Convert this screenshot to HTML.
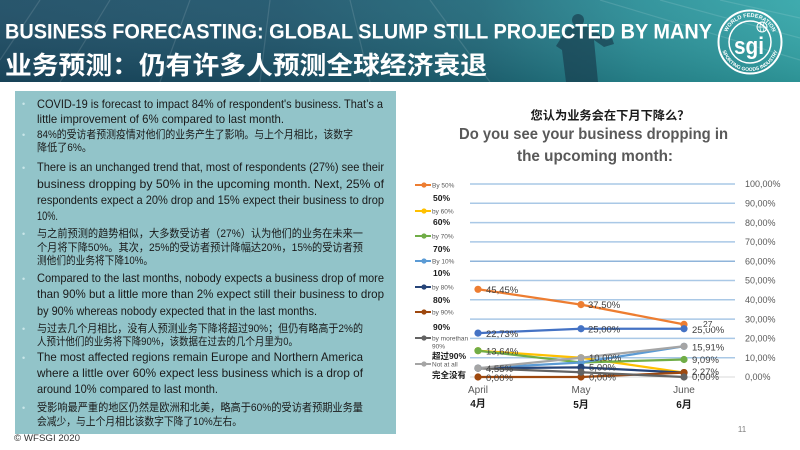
<!DOCTYPE html>
<html><head><meta charset="utf-8"><style>
html,body{margin:0;padding:0;background:#fff;width:800px;height:450px;overflow:hidden}
svg{display:block}
.en{font-family:"Liberation Sans","Noto Sans CJK SC",sans-serif;font-size:12px;fill:#1a1a1a}
.cn{font-family:"Liberation Sans","Noto Sans CJK SC",sans-serif;font-size:11px;fill:#1a1a1a}
.bu{font-family:"Liberation Sans",sans-serif;font-size:9px;fill:#c9e6e8}
.dl{font-family:"Liberation Sans",sans-serif;font-size:9.5px;fill:#404040}
.ax{font-family:"Liberation Sans",sans-serif;font-size:9px;fill:#595959}
.lg{font-family:"Liberation Sans",sans-serif;font-size:6.5px;fill:#595959}
.lb{font-family:"Liberation Sans","Noto Sans CJK SC",sans-serif;font-size:8.5px;font-weight:bold;fill:#1a1a1a}
</style></head><body>
<svg width="800" height="450" viewBox="0 0 800 450" xmlns="http://www.w3.org/2000/svg">
<defs>
<linearGradient id="hg" x1="0" y1="0" x2="1" y2="0">
<stop offset="0" stop-color="#1b4b63"/>
<stop offset="0.35" stop-color="#1d546b"/>
<stop offset="0.6" stop-color="#20697a"/>
<stop offset="0.8" stop-color="#298e97"/>
<stop offset="1" stop-color="#33a6a9"/>
</linearGradient>
<linearGradient id="hv" x1="0" y1="0" x2="0" y2="1">
<stop offset="0" stop-color="#ffffff" stop-opacity="0.06"/>
<stop offset="1" stop-color="#000000" stop-opacity="0.12"/>
</linearGradient>
<path id="arcTop" d="M725,42 A25,25 0 0 1 775,42"/>
<path id="arcBot" d="M721,42 A29,29 0 0 0 779,42"/>
</defs>

<!-- Header -->
<rect x="0" y="0" width="800" height="82" fill="url(#hg)"/>
<rect x="0" y="0" width="800" height="82" fill="url(#hv)"/>
<g stroke="#ffffff" stroke-opacity="0.12" stroke-width="1.2" fill="none">
<line x1="40" y1="0" x2="0" y2="60"/>
<line x1="110" y1="0" x2="60" y2="82"/>
<line x1="190" y1="0" x2="160" y2="82"/>
<line x1="270" y1="0" x2="260" y2="82"/>
<line x1="350" y1="0" x2="370" y2="82"/>
<line x1="430" y1="0" x2="490" y2="82"/>
<line x1="600" y1="0" x2="800" y2="60"/>
<line x1="660" y1="0" x2="800" y2="38"/>
<line x1="720" y1="0" x2="800" y2="18"/>
</g>
<g fill="#173a4c" fill-opacity="0.65">
<circle cx="578" cy="20" r="6"/>
<path d="M568,27 L590,27 L606,40 L612,38 L614,44 L604,47 L594,40 L598,82 L566,82 L562,50 L556,46 Z"/>
</g>
<text x="5" y="38.5" textLength="707" lengthAdjust="spacingAndGlyphs" style="font-family:'Liberation Sans',sans-serif;font-weight:bold;font-size:21px;fill:#fff">BUSINESS FORECASTING: GLOBAL SLUMP STILL PROJECTED BY MANY</text>
<text x="5" y="74" textLength="482" lengthAdjust="spacingAndGlyphs" style="font-family:'Liberation Sans','Noto Sans CJK SC',sans-serif;font-weight:bold;font-size:25px;fill:#fff">业务预测：仍有许多人预测全球经济衰退</text>

<!-- Logo -->
<g fill="none" stroke="#fff">
<circle cx="750" cy="42" r="31.5" stroke-width="2"/>
<circle cx="750" cy="42" r="21" stroke-width="1.5"/>
<circle cx="762" cy="27" r="5" stroke-width="1"/>
<line x1="757" y1="27" x2="767" y2="27" stroke-width="0.7"/>
<ellipse cx="762" cy="27" rx="2" ry="5" stroke-width="0.7"/>
</g>
<text style="font-family:'Liberation Sans',sans-serif;font-weight:bold;font-size:5.5px;fill:#fff"><textPath href="#arcTop" startOffset="50%" text-anchor="middle">WORLD FEDERATION</textPath></text>
<text style="font-family:'Liberation Sans',sans-serif;font-weight:bold;font-size:5px;fill:#fff"><textPath href="#arcBot" startOffset="50%" text-anchor="middle">SPORTING GOODS INDUSTRY</textPath></text>
<text x="749" y="54" text-anchor="middle" style="font-family:'Liberation Sans',sans-serif;font-weight:bold;font-size:24px;fill:#fff" textLength="30" lengthAdjust="spacingAndGlyphs">sgi</text>

<!-- Left text box -->
<rect x="15" y="91" width="381" height="343" fill="#92c4c9"/>
<text class="bu" x="22" y="107">•</text>
<text class="bu" x="22" y="138">•</text>
<text class="bu" x="22" y="171">•</text>
<text class="bu" x="22" y="237">•</text>
<text class="bu" x="22" y="282">•</text>
<text class="bu" x="22" y="332">•</text>
<text class="bu" x="22" y="361">•</text>
<text class="bu" x="22" y="411">•</text>

<text class="en" x="37" y="108" textLength="346" lengthAdjust="spacingAndGlyphs">COVID-19 is forecast to impact 84% of respondent's business. That’s a</text>
<text class="en" x="37" y="123" textLength="247" lengthAdjust="spacingAndGlyphs">little improvement of 6% compared to last month.</text>
<text class="cn" x="37" y="138" textLength="316" lengthAdjust="spacingAndGlyphs">84%的受访者预测疫情对他们的业务产生了影响。与上个月相比，该数字</text>
<text class="cn" x="37" y="151" textLength="55" lengthAdjust="spacingAndGlyphs">降低了6%。</text>
<text class="en" x="37" y="171" textLength="347" lengthAdjust="spacingAndGlyphs">There is an unchanged trend that, most of respondents (27%) see their</text>
<text class="en" x="37" y="188" textLength="347" lengthAdjust="spacingAndGlyphs">business dropping by 50% in the upcoming month. Next, 25% of</text>
<text class="en" x="37" y="204" textLength="347" lengthAdjust="spacingAndGlyphs">respondents expect a 20% drop and 15% expect their business to drop</text>
<text class="en" x="37" y="220" textLength="21" lengthAdjust="spacingAndGlyphs">10%.</text>
<text class="cn" x="37" y="237" textLength="326" lengthAdjust="spacingAndGlyphs">与之前预测的趋势相似，大多数受访者（27%）认为他们的业务在未来一</text>
<text class="cn" x="37" y="251" textLength="326" lengthAdjust="spacingAndGlyphs">个月将下降50%。其次，25%的受访者预计降幅达20%，15%的受访者预</text>
<text class="cn" x="37" y="264" textLength="116" lengthAdjust="spacingAndGlyphs">测他们的业务将下降10%。</text>
<text class="en" x="37" y="282" textLength="347" lengthAdjust="spacingAndGlyphs">Compared to the last months, nobody expects a business drop of more</text>
<text class="en" x="37" y="298" textLength="347" lengthAdjust="spacingAndGlyphs">than 90% but a little more than 2% expect still their business to drop</text>
<text class="en" x="37" y="315" textLength="280" lengthAdjust="spacingAndGlyphs">by 90% whereas nobody expected that in the last months.</text>
<text class="cn" x="37" y="332" textLength="326" lengthAdjust="spacingAndGlyphs">与过去几个月相比，没有人预测业务下降将超过90%；但仍有略高于2%的</text>
<text class="cn" x="37" y="345" textLength="261" lengthAdjust="spacingAndGlyphs">人预计他们的业务将下降90%，该数据在过去的几个月里为0。</text>
<text class="en" x="37" y="361" textLength="326" lengthAdjust="spacingAndGlyphs">The most affected regions remain Europe and Northern America</text>
<text class="en" x="37" y="377" textLength="326" lengthAdjust="spacingAndGlyphs">where a little over 60% expect less business which is a drop of</text>
<text class="en" x="37" y="393" textLength="181" lengthAdjust="spacingAndGlyphs">around 10% compared to last month.</text>
<text class="cn" x="37" y="411" textLength="326" lengthAdjust="spacingAndGlyphs">受影响最严重的地区仍然是欧洲和北美，略高于60%的受访者预期业务量</text>
<text class="cn" x="37" y="425" textLength="205" lengthAdjust="spacingAndGlyphs">会减少，与上个月相比该数字下降了10%左右。</text>

<text x="14" y="441" textLength="66" lengthAdjust="spacingAndGlyphs" style="font-family:'Liberation Sans',sans-serif;font-size:9px;fill:#333">© WFSGI 2020</text>

<!-- Chart titles -->
<text x="610" y="119.5" text-anchor="middle" textLength="159" lengthAdjust="spacingAndGlyphs" style="font-family:'Liberation Sans','Noto Sans CJK SC',sans-serif;font-weight:bold;font-size:12px;fill:#1a1a1a">您认为业务会在下月下降么？</text>
<text x="459" y="139" textLength="269" lengthAdjust="spacingAndGlyphs" style="font-family:'Liberation Sans',sans-serif;font-weight:bold;font-size:15.5px;fill:#595959">Do you see your business dropping in</text>
<text x="517" y="161" textLength="156" lengthAdjust="spacingAndGlyphs" style="font-family:'Liberation Sans',sans-serif;font-weight:bold;font-size:15.5px;fill:#595959">the upcoming month:</text>

<!-- Gridlines -->
<g stroke="#a9c8e6" stroke-width="1.5">
<line x1="470" y1="184" x2="735" y2="184"/>
<line x1="470" y1="203.3" x2="735" y2="203.3"/>
<line x1="470" y1="222.6" x2="735" y2="222.6"/>
<line x1="470" y1="241.9" x2="735" y2="241.9"/>
<line x1="470" y1="261.2" x2="735" y2="261.2" stroke="#8fb4da"/>
<line x1="470" y1="280.5" x2="735" y2="280.5"/>
<line x1="470" y1="299.8" x2="735" y2="299.8"/>
<line x1="470" y1="319.1" x2="735" y2="319.1"/>
<line x1="470" y1="338.4" x2="735" y2="338.4"/>
<line x1="470" y1="357.7" x2="735" y2="357.7"/>
</g>
<line x1="470" y1="377" x2="735" y2="377" stroke="#d9d9d9" stroke-width="1"/>

<!-- Right axis labels -->
<g class="ax">
<text x="745" y="187">100,00%</text>
<text x="745" y="206.5">90,00%</text>
<text x="745" y="225.8">80,00%</text>
<text x="745" y="245">70,00%</text>
<text x="745" y="264.4">60,00%</text>
<text x="745" y="283.7">50,00%</text>
<text x="745" y="303">40,00%</text>
<text x="745" y="322.3">30,00%</text>
<text x="745" y="341.6">20,00%</text>
<text x="745" y="360.9">10,00%</text>
<text x="745" y="380.2">0,00%</text>
</g>

<!-- Series -->
<g fill="none" stroke-width="2.25" stroke-linejoin="round">
<polyline points="478,289.3 581,304.6 684,324.4" stroke="#ed7d31"/>
<polyline points="478,333.1 581,328.75 684,328.75" stroke="#4472c4"/>
<polyline points="478,350.7 581,357.7 684,372.6" stroke="#ffc000"/>
<polyline points="478,350.7 581,362.5 684,359.5" stroke="#70ad47"/>
<polyline points="478,368.2 581,362.5 684,346.3" stroke="#5b9bd5"/>
<polyline points="478,368.2 581,367.35 684,372.6" stroke="#264478"/>
<polyline points="478,377 581,377 684,372.6" stroke="#9e480e"/>
<polyline points="478,368.2 581,372.2 684,377" stroke="#636363"/>
<polyline points="478,368.2 581,357.7 684,346.3" stroke="#a5a5a5"/>
</g>
<g>
<g fill="#ed7d31"><circle cx="478" cy="289.3" r="3.6"/><circle cx="581" cy="304.6" r="3.6"/><circle cx="684" cy="324.4" r="3.6"/></g>
<g fill="#4472c4"><circle cx="478" cy="333.1" r="3.6"/><circle cx="581" cy="328.75" r="3.6"/><circle cx="684" cy="328.75" r="3.6"/></g>
<g fill="#ffc000"><circle cx="478" cy="350.7" r="3.6"/><circle cx="581" cy="357.7" r="3.6"/><circle cx="684" cy="372.6" r="3.6"/></g>
<g fill="#70ad47"><circle cx="478" cy="350.7" r="3.6"/><circle cx="581" cy="362.5" r="3.6"/><circle cx="684" cy="359.5" r="3.6"/></g>
<g fill="#5b9bd5"><circle cx="478" cy="368.2" r="3.6"/><circle cx="581" cy="362.5" r="3.6"/><circle cx="684" cy="346.3" r="3.6"/></g>
<g fill="#264478"><circle cx="478" cy="368.2" r="3.6"/><circle cx="581" cy="367.35" r="3.6"/><circle cx="684" cy="372.6" r="3.6"/></g>
<g fill="#9e480e"><circle cx="478" cy="377" r="3.6"/><circle cx="581" cy="377" r="3.6"/><circle cx="684" cy="372.6" r="3.6"/></g>
<g fill="#636363"><circle cx="478" cy="368.2" r="3.6"/><circle cx="581" cy="372.2" r="3.6"/><circle cx="684" cy="377" r="3.6"/></g>
<g fill="#a5a5a5"><circle cx="478" cy="368.2" r="3.6"/><circle cx="581" cy="357.7" r="3.6"/><circle cx="684" cy="346.3" r="3.6"/></g>
</g>

<!-- Data labels -->
<g class="dl">
<text x="486" y="293">45,45%</text>
<text x="486" y="337">22,73%</text>
<text x="486" y="354.5">13,64%</text>
<text x="486" y="372">4,55%</text>
<text x="486" y="381">0,00%</text>
<text x="588" y="308">37,50%</text>
<text x="588" y="332.5">25,00%</text>
<text x="589" y="361">10,00%</text>
<text x="589" y="370.5">5,00%</text>
<text x="589" y="380.5">0,00%</text>
<text x="692" y="333">25,00%</text>
<text x="692" y="350.5">15,91%</text>
<text x="692" y="363">9,09%</text>
<text x="692" y="375">2,27%</text>
<text x="692" y="380">0,00%</text>
</g>
<rect x="703" y="320" width="9" height="8" fill="#fff"/>
<text x="703" y="327" style="font-family:'Liberation Sans',sans-serif;font-size:8.5px;fill:#404040">27</text>

<!-- X axis -->
<g class="ax" text-anchor="middle" style="font-size:10px">
<text x="478" y="393">April</text>
<text x="581" y="393">May</text>
<text x="684" y="393">June</text>
</g>
<g text-anchor="middle" style="font-family:'Liberation Sans','Noto Sans CJK SC',sans-serif;font-size:10px;font-weight:bold;fill:#1a1a1a">
<text x="478" y="407">4月</text>
<text x="581" y="408">5月</text>
<text x="684" y="408">6月</text>
</g>

<!-- Legend -->
<g stroke-width="2">
<line x1="415" y1="185" x2="431" y2="185" stroke="#ed7d31"/>
<line x1="415" y1="211" x2="431" y2="211" stroke="#ffc000"/>
<line x1="415" y1="236" x2="431" y2="236" stroke="#70ad47"/>
<line x1="415" y1="261" x2="431" y2="261" stroke="#5b9bd5"/>
<line x1="415" y1="287" x2="431" y2="287" stroke="#264478"/>
<line x1="415" y1="312" x2="431" y2="312" stroke="#9e480e"/>
<line x1="415" y1="338" x2="431" y2="338" stroke="#636363"/>
<line x1="415" y1="364" x2="431" y2="364" stroke="#a5a5a5"/>
</g>
<circle cx="424" cy="185" r="2.6" fill="#ed7d31"/>
<circle cx="424" cy="211" r="2.6" fill="#ffc000"/>
<circle cx="424" cy="236" r="2.6" fill="#70ad47"/>
<circle cx="424" cy="261" r="2.6" fill="#5b9bd5"/>
<circle cx="424" cy="287" r="2.6" fill="#264478"/>
<circle cx="424" cy="312" r="2.6" fill="#9e480e"/>
<circle cx="424" cy="338" r="2.6" fill="#636363"/>
<circle cx="424" cy="364" r="2.6" fill="#a5a5a5"/>
<g class="lg">
<text x="432" y="187.5">By 50%</text>
<text x="432" y="213.5">by 60%</text>
<text x="432" y="238.5">by 70%</text>
<text x="432" y="263.5">By 10%</text>
<text x="432" y="289.5">by 80%</text>
<text x="432" y="314.5">by 90%</text>
<text x="432" y="340.5">by morethan</text>
<text x="432" y="348.5">90%</text>
<text x="432" y="366.5">Not at all</text>
</g>
<g class="lb">
<text x="433" y="201">50%</text>
<text x="433" y="225">60%</text>
<text x="433" y="252">70%</text>
<text x="433" y="276">10%</text>
<text x="433" y="303">80%</text>
<text x="433" y="330">90%</text>
<text x="432" y="359">超过90%</text>
<text x="432" y="378">完全没有</text>
</g>

<text x="742" y="432" text-anchor="middle" style="font-family:'Liberation Sans',sans-serif;font-size:8px;fill:#7f7f7f">11</text>
</svg>
</body></html>
